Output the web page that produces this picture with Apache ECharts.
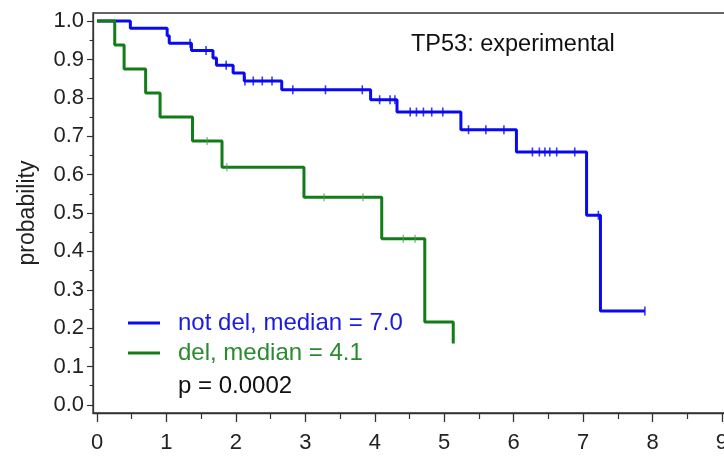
<!DOCTYPE html>
<html>
<head>
<meta charset="utf-8">
<script src="https://cdn.jsdelivr.net/npm/echarts@6/dist/echarts.min.js"></script>
<style>
  html, body { margin: 0; padding: 0; background: #fff; }
  #chart { width: 724px; height: 457px; }
</style>
</head>
<body>
<div id="chart"></div>
<script>
// Kaplan-Meier estimates: event times (years) and survival after each step
const timesNotDel = [0, 0.48, 1.01, 1.04, 1.36, 1.67, 1.72, 1.96, 2.12, 2.66, 3.94, 4.32, 5.24, 6.04, 7.05, 7.25, 7.89];
const survNotDel  = [1.0, 0.981, 0.962, 0.942, 0.923, 0.904, 0.885, 0.865, 0.844, 0.821, 0.795, 0.763, 0.717, 0.659, 0.494, 0.245, 0.245];

const timesDel = [0, 0.255, 0.39, 0.70, 0.908, 1.375, 1.80, 2.98, 4.10, 4.72, 5.13];
const survDel  = [1.0, 0.9375, 0.875, 0.8125, 0.75, 0.6875, 0.619, 0.541, 0.433, 0.216, 0.160];

// censored observations (tick marks on the curves)
const censorNotDelT = [1.34, 1.57, 1.86, 2.13, 2.25, 2.38, 2.52, 2.82, 3.29, 3.82, 4.07, 4.22, 4.29,
                       4.51, 4.60, 4.70, 4.82, 4.98, 5.35, 5.60, 5.86, 6.27, 6.37, 6.45, 6.52, 6.62, 6.88, 7.22, 7.89];
const censorNotDelP = [0.942, 0.923, 0.885, 0.844, 0.844, 0.844, 0.844, 0.821, 0.821, 0.821, 0.795, 0.795, 0.795,
                       0.763, 0.763, 0.763, 0.763, 0.763, 0.717, 0.717, 0.717, 0.659, 0.659, 0.659, 0.659, 0.659, 0.659, 0.494, 0.245];
const censorDelT = [1.585, 1.87, 3.27, 3.83, 4.41, 4.58];
const censorDelP = [0.6875, 0.619, 0.541, 0.541, 0.433, 0.433];

// axis ticks
const xTicks = [0, 1, 2, 3, 4, 5, 6, 7, 8, 9];
const xMinorTicks = [0.5, 1.5, 2.5, 3.5, 4.5, 5.5, 6.5, 7.5, 8.5];
const yTicks = [0, 0.1, 0.2, 0.3, 0.4, 0.5, 0.6, 0.7, 0.8, 0.9, 1.0];
const yMinorTicks = [0.05, 0.15, 0.25, 0.35, 0.45, 0.55, 0.65, 0.75, 0.85, 0.95];

const title = 'TP53: experimental';
const nameNotDel = 'not del, median = 7.0';
const nameDel = 'del, median = 4.1';
const pText = 'p = 0.0002';

const BLUE = '#0a0af0';
const GREEN = '#127d18';
const AXIS = '#333333';
const FONT = '"Liberation Sans", Arial, sans-serif';

const pairs = (xs, ys) => xs.map((x, i) => [x, ys[i]]);

const chart = echarts.init(document.getElementById('chart'), null, { renderer: 'canvas' });

const xBase = { type: 'value', gridIndex: 0, min: -0.058, max: 9.058, splitLine: { show: false } };
const yBase = { type: 'value', gridIndex: 0, min: -0.021, max: 1.021, splitLine: { show: false } };

chart.setOption({
  animation: false,
  backgroundColor: '#ffffff',
  title: {
    text: title,
    left: 411, top: 33, padding: 0,
    textStyle: { fontFamily: FONT, fontSize: 23.5, fontWeight: 'normal', color: '#111' }
  },
  grid: {
    left: 93, top: 13, width: 633, height: 400,
    outerBoundsMode: 'none', containLabel: false,
    show: true, borderColor: AXIS, borderWidth: 1.3, backgroundColor: 'transparent'
  },
  legend: {
    orient: 'vertical', left: 128, top: 311, itemGap: 6, padding: 0,
    itemWidth: 32, itemHeight: 3, icon: 'rect',
    selectedMode: false,
    textStyle: { fontFamily: FONT, fontSize: 24, padding: [0, 0, 0, 13] },
    data: [
      { name: nameNotDel, textStyle: { color: '#1a1ae0' } },
      { name: nameDel, textStyle: { color: '#2a8a30' } }
    ]
  },
  graphic: [{
    type: 'text', left: 178, top: 374,
    style: { text: pText, fontFamily: FONT, fontSize: 24, fill: '#111' }
  }],
  xAxis: [
    Object.assign({}, xBase, {
      position: 'bottom',
      axisLine: { show: true, onZero: false, lineStyle: { color: AXIS, width: 1.3 } },
      axisTick: { show: true, inside: false, length: 9, customValues: xTicks, lineStyle: { color: AXIS, width: 1.3 } },
      axisLabel: { show: true, margin: 19, customValues: xTicks, fontFamily: FONT, fontSize: 22, color: '#222' }
    }),
    Object.assign({}, xBase, {
      position: 'bottom',
      axisLine: { show: false, onZero: false },
      axisTick: { show: true, inside: false, length: 6, customValues: xMinorTicks, lineStyle: { color: AXIS, width: 1.2 } },
      axisLabel: { show: false }
    })
  ],
  yAxis: [
    Object.assign({}, yBase, {
      position: 'left',
      name: 'probability', nameLocation: 'middle', nameRotate: 90, nameGap: 54,
      nameTextStyle: { fontFamily: FONT, fontSize: 23, color: '#222' },
      axisLine: { show: true, onZero: false, lineStyle: { color: AXIS, width: 1.3 } },
      axisTick: { show: true, inside: false, length: 6, customValues: yTicks, lineStyle: { color: AXIS, width: 1.2 } },
      axisLabel: {
        show: true, margin: 9, customValues: yTicks,
        fontFamily: FONT, fontSize: 22, color: '#222',
        formatter: v => v.toFixed(1)
      }
    }),
    Object.assign({}, yBase, {
      position: 'left',
      axisLine: { show: false, onZero: false },
      axisTick: { show: true, inside: false, length: 3.5, customValues: yMinorTicks, lineStyle: { color: AXIS, width: 1.1 } },
      axisLabel: { show: false }
    })
  ],
  series: [
    {
      name: nameNotDel, type: 'line', step: 'end', xAxisIndex: 0, yAxisIndex: 0,
      data: pairs(timesNotDel, survNotDel),
      showSymbol: false, symbol: 'none',
      lineStyle: { color: BLUE, width: 3 }, itemStyle: { color: BLUE },
      z: 3
    },
    {
      name: 'censored not del', type: 'scatter', xAxisIndex: 0, yAxisIndex: 0,
      data: pairs(censorNotDelT, censorNotDelP),
      symbol: 'rect', symbolSize: [1.6, 9],
      itemStyle: { color: BLUE }, z: 3
    },
    {
      name: nameDel, type: 'line', step: 'end', xAxisIndex: 0, yAxisIndex: 0,
      data: pairs(timesDel, survDel),
      showSymbol: false, symbol: 'none',
      lineStyle: { color: GREEN, width: 3 }, itemStyle: { color: GREEN },
      z: 4
    },
    {
      name: 'censored del', type: 'scatter', xAxisIndex: 0, yAxisIndex: 0,
      data: pairs(censorDelT, censorDelP),
      symbol: 'rect', symbolSize: [1.2, 8],
      itemStyle: { color: '#4a9a4e' }, z: 4
    }
  ]
});
</script>
</body>
</html>
